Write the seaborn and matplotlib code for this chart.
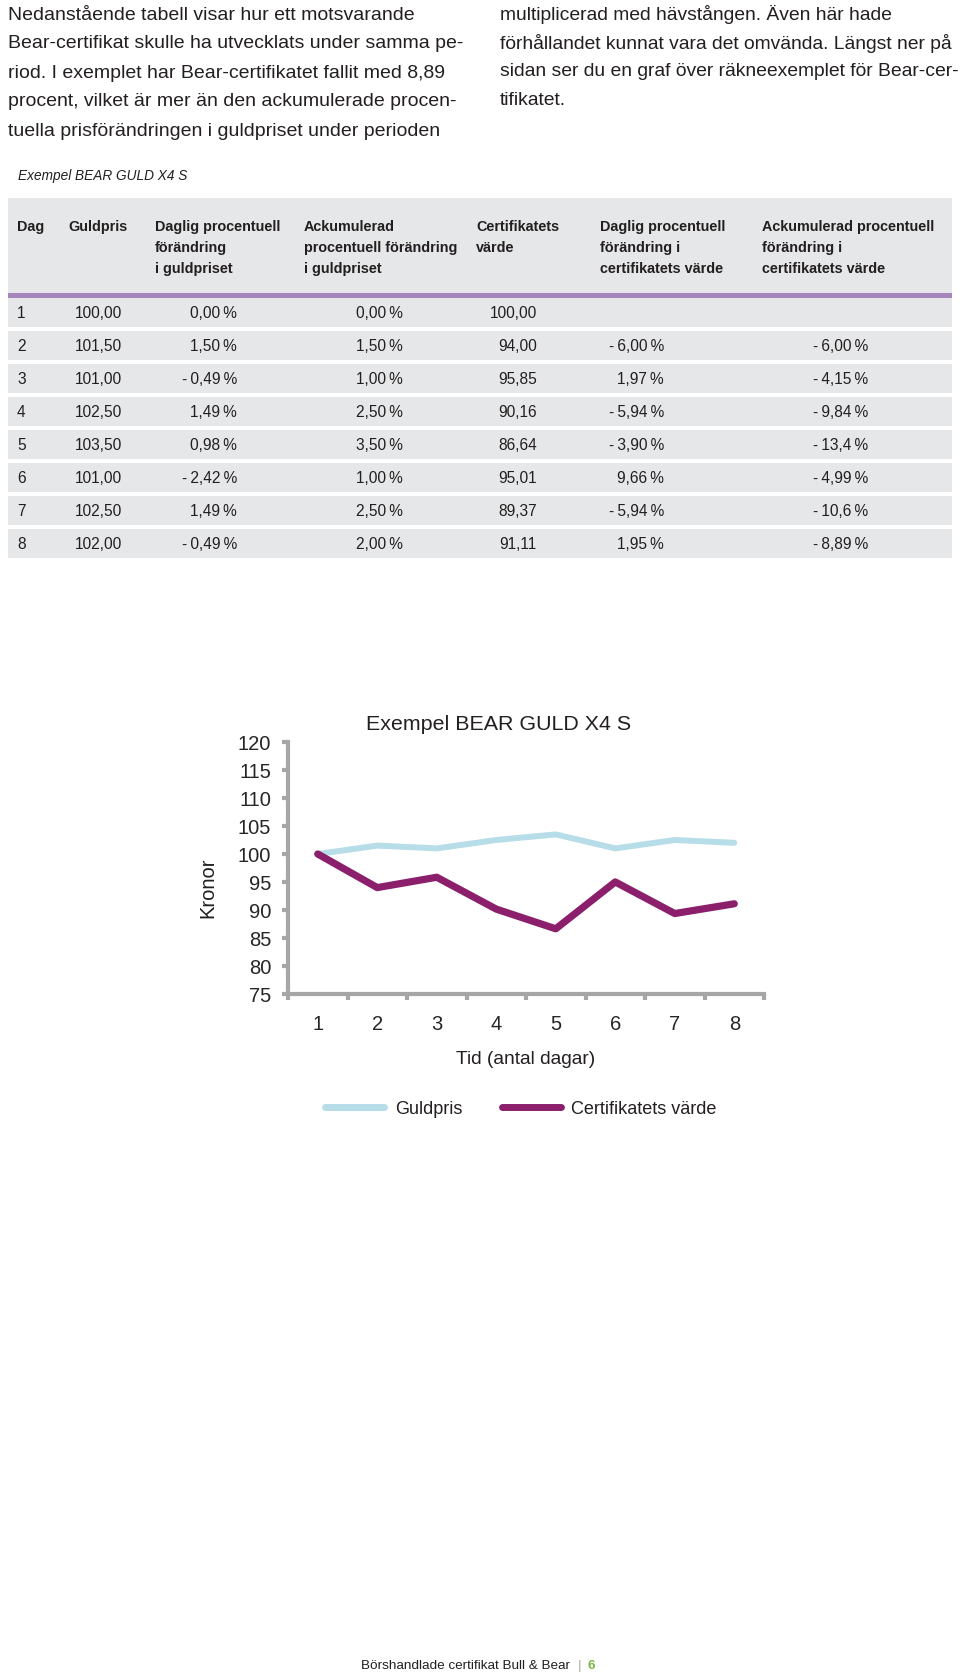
import numpy as np
import pandas as pd
import matplotlib
matplotlib.use("Agg")
import matplotlib.pyplot as plt
from matplotlib.patches import Rectangle
from matplotlib.lines import Line2D
import seaborn as sns

# page size in pixels (dpi 100)
W, H = 960, 1676

# chart / table data
days = [1, 2, 3, 4, 5, 6, 7, 8]
gold_price = [100.00, 101.50, 101.00, 102.50, 103.50, 101.00, 102.50, 102.00]
cert_value = [100.00, 94.00, 95.85, 90.16, 86.64, 95.01, 89.37, 91.11]
gold_daily = ["0,00", "1,50", "-0,49", "1,49", "0,98", "-2,42", "1,49", "-0,49"]
gold_accum = ["0,00", "1,50", "1,00", "2,50", "3,50", "1,00", "2,50", "2,00"]
cert_daily = ["", "-6,00", "1,97", "-5,94", "-3,90", "9,66", "-5,94", "1,95"]
cert_accum = ["", "-6,00", "-4,15", "-9,84", "-13,4", "-4,99", "-10,6", "-8,89"]
series_names = ["Guldpris", "Certifikatets värde"]
y_ticks = [75, 80, 85, 90, 95, 100, 105, 110, 115, 120]

headers = ["Dag", "Guldpris", "Daglig procentuell\nförändring\ni guldpriset",
           "Ackumulerad\nprocentuell förändring\ni guldpriset",
           "Certifikatets\nvärde",
           "Daglig procentuell\nförändring i\ncertifikatets värde",
           "Ackumulerad procentuell\nförändring i\ncertifikatets värde"]

left_text = ["Nedanstående tabell visar hur ett motsvarande",
             "Bear-certifikat skulle ha utvecklats under samma pe-",
             "riod. I exemplet har Bear-certifikatet fallit med 8,89",
             "procent, vilket är mer än den ackumulerade procen-",
             "tuella prisförändringen i guldpriset under perioden"]
right_text = ["multiplicerad med hävstången. Även här hade",
              "förhållandet kunnat vara det omvända. Längst ner på",
              "sidan ser du en graf över räkneexemplet för Bear-cer-",
              "tifikatet."]

GOLD_C = "#b6dde8"
CERT_C = "#8b1f6c"
AXIS_C = "#a6a6a6"
TABLE_BG = "#e6e7e8"
PURPLE = "#a486bd"
INK = "#231f20"

FONT = ["Liberation Sans", "DejaVu Sans"]

sns.set_theme(style="white")
plt.rcParams["font.family"] = FONT
plt.rcParams["text.color"] = INK


def fx(x):
    return x / W


def fy(y):
    return 1 - y / H


def pct(s):
    if s == "":
        return ""
    s = s.replace("-", "-\u2009")
    return s + "\u2009%"


fig = plt.figure(figsize=(W / 100, H / 100), dpi=100)

# intro paragraphs
for i, line in enumerate(left_text):
    fig.text(fx(8), fy(15 + 29 * i), line, fontsize=14, va="center", ha="left")
for i, line in enumerate(right_text):
    fig.text(fx(500), fy(15 + 28.5 * i), line, fontsize=13.9, va="center", ha="left")

fig.text(fx(18), fy(176), "Exempel BEAR GULD X4 S", fontsize=9.8, style="italic",
         va="center", ha="left")

# table header
fig.add_artist(Rectangle((fx(8), fy(293)), (952 - 8) / W, (293 - 198) / H,
                         transform=fig.transFigure, color=TABLE_BG, lw=0))
fig.add_artist(Rectangle((fx(8), fy(298)), (952 - 8) / W, 5 / H,
                         transform=fig.transFigure, color=PURPLE, lw=0))
head_x = [17, 68, 155, 304, 476, 600, 762]
for hx, txt in zip(head_x, headers):
    for j, part in enumerate(txt.split("\n")):
        fig.text(fx(hx), fy(231 + 21 * j), part, fontsize=10.4, fontweight="bold",
                 va="baseline", ha="left")

# table rows
for i in range(len(days)):
    top = 298 + 33 * i
    fig.add_artist(Rectangle((fx(8), fy(top + 29)), (952 - 8) / W, 29 / H,
                             transform=fig.transFigure, color=TABLE_BG, lw=0))
    yc = fy(top + 15.5)
    kw = dict(fontsize=11.2, va="center")
    fig.text(fx(17), yc, str(days[i]), ha="left", **kw)
    fig.text(fx(75), yc, f"{gold_price[i]:.2f}".replace(".", ","), ha="left", **kw)
    fig.text(fx(237), yc, pct(gold_daily[i]), ha="right", **kw)
    fig.text(fx(403), yc, pct(gold_accum[i]), ha="right", **kw)
    fig.text(fx(537), yc, f"{cert_value[i]:.2f}".replace(".", ","), ha="right", **kw)
    fig.text(fx(664), yc, pct(cert_daily[i]), ha="right", **kw)
    fig.text(fx(868), yc, pct(cert_accum[i]), ha="right", **kw)

# line chart
ax = fig.add_axes([fx(288), fy(994), (764 - 288) / W, (994 - 742) / H])
df = pd.DataFrame({"Dag": days * 2,
                   "Kronor": gold_price + cert_value,
                   "Serie": [series_names[0]] * len(days) + [series_names[1]] * len(days)})
sns.lineplot(data=df[df["Serie"] == series_names[0]], x="Dag", y="Kronor", color=GOLD_C,
             linewidth=4.3, ax=ax, legend=False, solid_capstyle="round")
sns.lineplot(data=df[df["Serie"] == series_names[1]], x="Dag", y="Kronor", color=CERT_C,
             linewidth=5.2, ax=ax, legend=False, solid_capstyle="round")

ax.set_xlim(0.5, 8.5)
ax.set_ylim(75, 120)
ax.set_yticks(y_ticks)
ax.set_yticklabels([str(t) for t in y_ticks], fontsize=14.5)
ax.set_xticks(np.arange(0.5, 9, 1))
ax.set_xticklabels([])
ax.set_xticks(days, minor=True)
ax.set_xticklabels([str(d) for d in days], minor=True, fontsize=14.5)
ax.tick_params(axis="x", which="major", direction="out", length=4, width=3,
               color=AXIS_C, bottom=True)
ax.tick_params(axis="x", which="minor", length=0, pad=15, bottom=True)
ax.tick_params(axis="y", direction="out", length=4, width=3, color=AXIS_C, pad=8, left=True)
ax.set_xlabel("")
ax.set_ylabel("")
for side in ["top", "right"]:
    ax.spines[side].set_visible(False)
for side in ["left", "bottom"]:
    ax.spines[side].set_color(AXIS_C)
    ax.spines[side].set_linewidth(3)
ax.grid(False)

fig.text(fx(499), fy(724), "Exempel BEAR GULD X4 S", fontsize=15.4, ha="center", va="center")
fig.text(fx(208), fy(888), "Kronor", fontsize=14.5, rotation=90, ha="center", va="center")
fig.text(fx(526), fy(1059), "Tid (antal dagar)", fontsize=13.8, ha="center", va="center")

handles = [Line2D([], [], color=GOLD_C, lw=5, solid_capstyle="round"),
           Line2D([], [], color=CERT_C, lw=5, solid_capstyle="round")]
fig.legend(handles, series_names, loc="center", bbox_to_anchor=(fx(521), fy(1109)),
           ncol=2, frameon=False, fontsize=13, handlelength=3.25, handletextpad=0.6,
           columnspacing=2.2)

# footer
fig.text(fx(570), fy(1666), "Börshandlade certifikat Bull & Bear", fontsize=9.7,
         ha="right", va="center")
fig.text(fx(580), fy(1666), "|", fontsize=9.7, ha="center", va="center", color="#aaaaaa")
fig.text(fx(588), fy(1666), "6", fontsize=9.7, ha="left", va="center",
         color="#7ab648", fontweight="bold")

fig.savefig("out.png", dpi=100)
